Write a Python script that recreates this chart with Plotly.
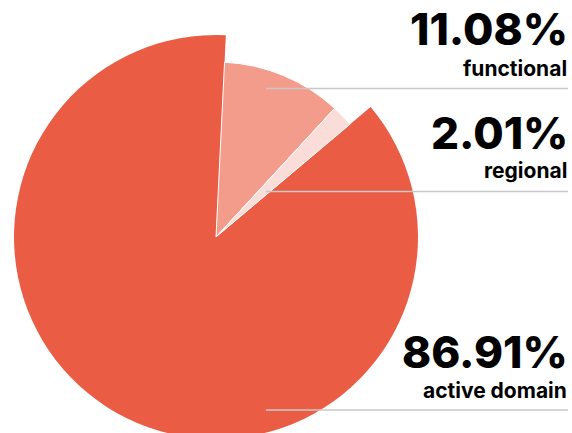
import plotly.graph_objects as go

labels = ["functional", "regional", "active domain"]
values = [11.08, 2.01, 86.91]
colors = ["#F39C8B", "#FADDD8", "#EA5D44"]
value_text = ["11.08%", "2.01%", "86.91%"]

# figure drawn at page origin (body margin removed); slightly taller than the
# window so the bottom of the big slice runs off the edge as in the reference
W, H = 572, 442
cx, cy = 216, 237
R_big, R_small = 202, 175

def dom(r):
    return dict(x=[(cx - r) / W, (cx + r) / W],
                y=[(H - cy - r) / H, (H - cy + r) / H])

transparent = "rgba(0,0,0,0)"
fig = go.Figure()
fig.add_trace(go.Pie(
    labels=labels, values=values, sort=False, direction="clockwise", rotation=2.8,
    marker=dict(colors=[transparent, transparent, colors[2]], line=dict(width=0)),
    textinfo="none", hoverinfo="skip", domain=dom(R_big), showlegend=False,
))
fig.add_trace(go.Pie(
    labels=labels, values=values, sort=False, direction="clockwise", rotation=2.8,
    marker=dict(colors=[colors[0], colors[1], transparent],
                line=dict(width=[1, 1, 0], color=["white", "white", transparent])),
    textinfo="none", hoverinfo="skip", domain=dom(R_small), showlegend=False,
))

# annotation layout (page pixels from top)
num_y = [29.5, 133, 351.5]
lab_y = [68.5, 170.5, 390.5]
line_y = [88.5, 191.5, 410]
xr_num, xr_lab = 570, 569

def py(y):
    return (H - y) / H

def px(x):
    return x / W

for i in range(3):
    fig.add_annotation(x=px(xr_num), y=py(num_y[i]), xref="paper", yref="paper",
                       text=value_text[i], showarrow=False, xanchor="right", yanchor="middle",
                       font=dict(family="Inter, Lato, sans-serif", size=44, color="black", weight=800))
    fig.add_annotation(x=px(xr_lab), y=py(lab_y[i]), xref="paper", yref="paper",
                       text=labels[i], showarrow=False, xanchor="right", yanchor="middle",
                       font=dict(family="Inter, Lato, sans-serif", size=21, color="black", weight=700))
    fig.add_shape(type="line", xref="paper", yref="paper",
                  x0=px(266), x1=px(568), y0=py(line_y[i]), y1=py(line_y[i]),
                  line=dict(color="#C8C8C8", width=1.5))

fig.update_layout(width=W, height=H, margin=dict(l=0, r=0, t=0, b=0),
                  paper_bgcolor="white", plot_bgcolor="white", showlegend=False)
fig.write_html("out.html", config={"displayModeBar": False},
               post_script="document.body.style.margin='0';")
